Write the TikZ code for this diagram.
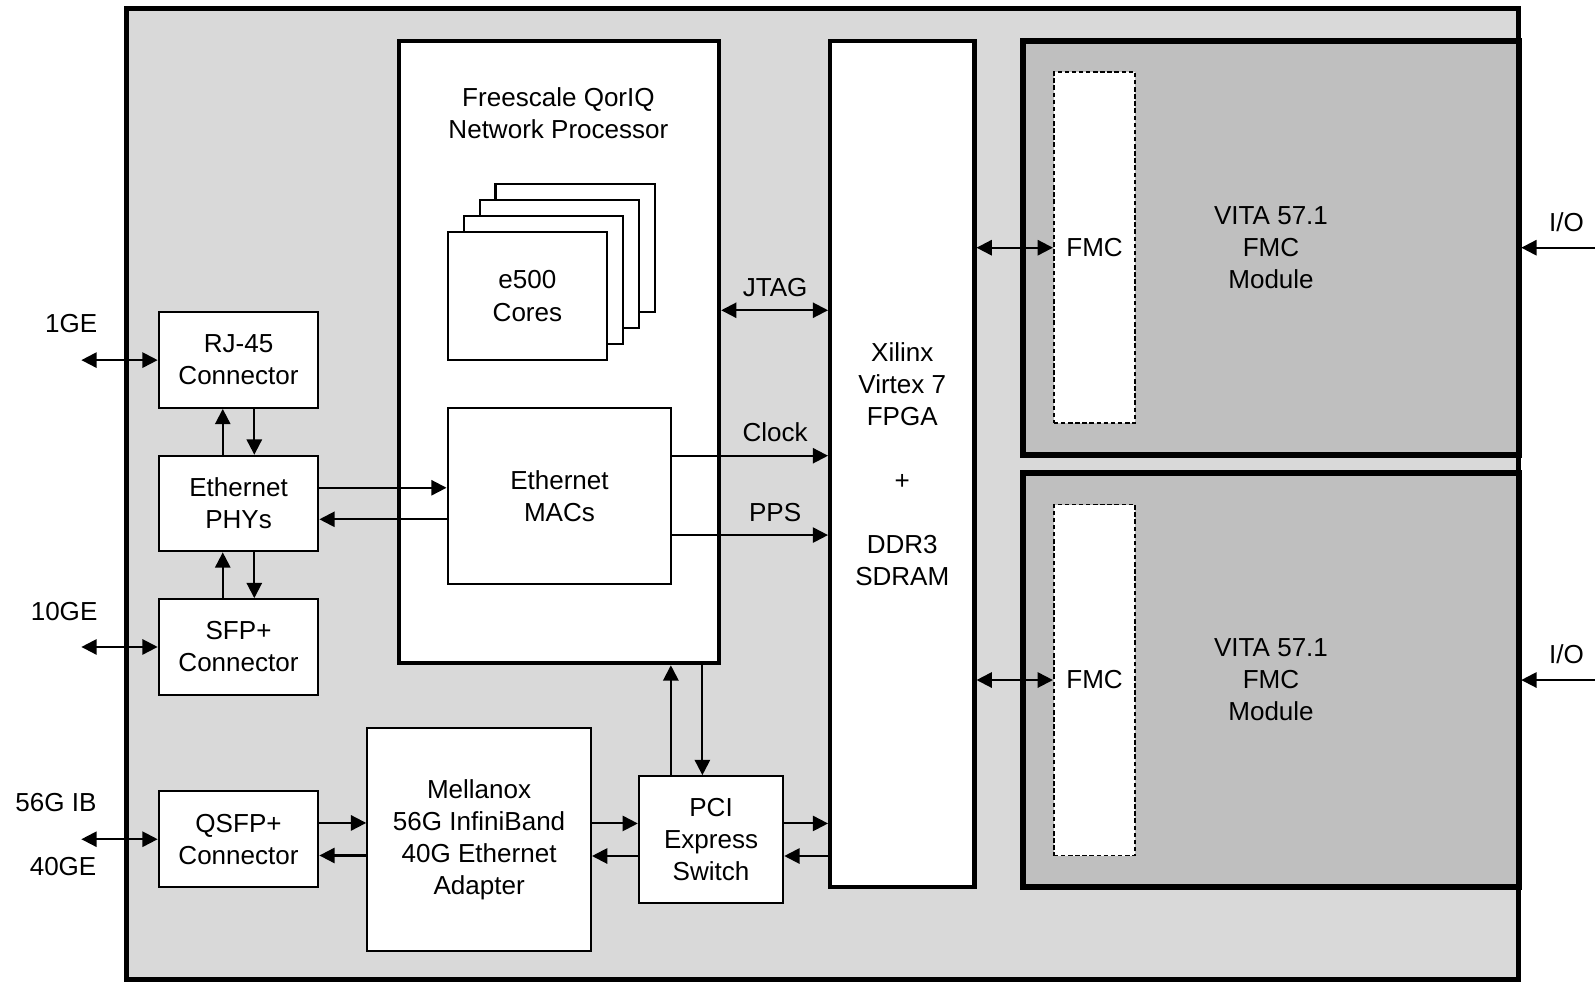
\documentclass[tikz,border=0pt]{standalone}
\usepackage{fontspec}
\setmainfont{Liberation Sans}
\usetikzlibrary{arrows.meta,positioning,calc}
\definecolor{boardgrey}{HTML}{D9D9D9}
\definecolor{modulegrey}{HTML}{BFBFBF}
\tikzset{
  blk/.style={rectangle, draw=black, fill=white, line width=1pt, inner sep=0pt, align=center},
  chip/.style={blk, line width=2pt},
  module/.style={rectangle, draw=black, fill=modulegrey, line width=3pt, inner sep=0pt, align=center},
  slot/.style={rectangle, draw=black, fill=white, line width=0.9pt, dash pattern=on 2.2pt off 1.3pt, inner sep=0pt, align=center},
  sig/.style={line width=1pt, -{Triangle[length=7.5pt,width=7.5pt]}},
  bisig/.style={line width=1pt, {Triangle[length=7.5pt,width=7.5pt]}-{Triangle[length=7.5pt,width=7.5pt]}},
  txt/.style={inner sep=0pt, align=center}
}

\begin{document}
\begin{tikzpicture}[x=0.5pt, y=-0.5pt, font=\fontsize{12.8}{15.75}\selectfont]
\useasboundingbox (0,0) rectangle (1568,966);
\node[rectangle, draw=black, fill=boardgrey, line width=2.5pt, minimum width=684.5pt, minimum height=477.5pt] (board) at (808.5,485.5) {};

\node[chip, minimum width=157.5pt, minimum height=306pt] (proc) at (549.5,346) {};
\node[txt] (proctitle) at (549,111) {Freescale QorIQ\\Network Processor};
\foreach \i in {3,2,1}
  \node[blk, minimum width=78.5pt, minimum height=63pt] (core\i) at (518.5+15.7*\i, 291-15.7*\i) {};
\node[blk, minimum width=78.5pt, minimum height=63pt] (core0) at (518.5,291) {e500\\Cores};
\node[blk, minimum width=110pt, minimum height=86.5pt] (mac) at (550,487.5) {Ethernet\\MACs};

\node[chip, minimum width=71pt, minimum height=416pt] (fpga) at (887,456) {Xilinx\\Virtex 7\\FPGA\\[15.75pt]+\\[15.75pt]DDR3\\SDRAM};

\node[module, minimum width=243.5pt, minimum height=203.5pt] (vita1) at (1249.5,243.5) {VITA 57.1\\FMC\\Module};
\node[module, minimum width=243.5pt, minimum height=203.5pt, below=6pt of vita1] (vita2) {VITA 57.1\\FMC\\Module};
\node[slot, minimum width=40pt, minimum height=172.5pt] (fmc1) at (1076,243.5) {FMC};
\node[slot, minimum width=40pt, minimum height=172.5pt] (fmc2) at (fmc1 |- vita2) {FMC};

\node[blk, minimum width=78.5pt, minimum height=47pt] (rj) at (234.5,354) {RJ-45\\Connector};
\node[blk, minimum width=78.5pt, minimum height=47pt, below=22.5pt of rj] (phy) {Ethernet\\PHYs};
\node[blk, minimum width=78.5pt, minimum height=47pt, below=22.5pt of phy] (sfp) {SFP+\\Connector};
\node[blk, minimum width=78.5pt, minimum height=47pt] (qsfp) at (234.5,825) {QSFP+\\Connector};
\node[blk, minimum width=110pt, minimum height=109.5pt] (mlx) at (471,825.5) {Mellanox\\56G InfiniBand\\40G Ethernet\\Adapter};
\node[blk, minimum width=71pt, minimum height=62.5pt] (pci) at (699,825.5) {PCI\\Express\\Switch};

\coordinate[left=37.5pt of rj.west] (ext1);
\coordinate[left=37.5pt of sfp.west] (ext10);
\coordinate[left=37.5pt of qsfp.west] (ext56);
\node[txt] (lbl1ge) at (70,318) {1GE};
\node[txt] (lbl10ge) at (63,601) {10GE};
\node[txt] (lbl56ib) at (55,789) {56G IB};
\node[txt] (lbl40ge) at (62,852) {40GE};
\coordinate (io1) at (1568,243.5);
\coordinate (io2) at (1568,668.5);
\node[txt] (lblio1) at (1540,218) {I/O};
\node[txt] (lblio2) at (1540,643) {I/O};
\node[txt] (lbljtag) at (762,283) {JTAG};
\node[txt] (lblclk) at (762,425) {Clock};
\node[txt] (lblpps) at (762,504) {PPS};

\draw[bisig] (ext1) -- (rj.west);
\draw[bisig] (ext10) -- (sfp.west);
\draw[bisig] (ext56) -- (qsfp.west);
\draw[sig] ([xshift=-7.75pt]phy.north) -- ([xshift=-7.75pt]rj.south);
\draw[sig] ([xshift=7.75pt]rj.south) -- ([xshift=7.75pt]phy.north);
\draw[sig] ([xshift=-7.75pt]sfp.north) -- ([xshift=-7.75pt]phy.south);
\draw[sig] ([xshift=7.75pt]phy.south) -- ([xshift=7.75pt]sfp.north);
\draw[sig] ([yshift=7.75pt]phy.east) -- ([yshift=7.75pt]phy.east -| mac.west);
\draw[sig] ([yshift=-7.75pt]phy.east -| mac.west) -- ([yshift=-7.75pt]phy.east);
\draw[sig] ([yshift=8pt]qsfp.east) -- ([yshift=8pt]qsfp.east -| mlx.west);
\draw[sig] ([yshift=-8pt]qsfp.east -| mlx.west) -- ([yshift=-8pt]qsfp.east);
\draw[sig] ([yshift=8pt]mlx.east) -- ([yshift=8pt]mlx.east -| pci.west);
\draw[sig] ([yshift=-8pt]mlx.east -| pci.west) -- ([yshift=-8pt]mlx.east);
\draw[sig] ([yshift=8pt]pci.east) -- ([yshift=8pt]pci.east -| fpga.west);
\draw[sig] ([yshift=-8pt]pci.east -| fpga.west) -- ([yshift=-8pt]pci.east);
\draw[sig] ([xshift=-19.75pt]pci.north) -- ([xshift=-19.75pt]pci.north |- proc.south);
\draw[sig] ([xshift=-4.25pt]pci.north |- proc.south) -- ([xshift=-4.25pt]pci.north);
\draw[bisig] ([yshift=20.5pt]proc.east) -- ([yshift=20.5pt]proc.east -| fpga.west);
\draw[sig] ([yshift=19.75pt]mac.east) -- ([yshift=19.75pt]mac.east -| fpga.west);
\draw[sig] ([yshift=-19.25pt]mac.east) -- ([yshift=-19.25pt]mac.east -| fpga.west);
\draw[bisig] (fmc1.west -| fpga.east) -- (fmc1.west);
\draw[bisig] (fmc2.west -| fpga.east) -- (fmc2.west);
\draw[sig] (io1) -- (io1 -| board.east);
\draw[sig] (io2) -- (io2 -| board.east);
\end{tikzpicture}
\end{document}
